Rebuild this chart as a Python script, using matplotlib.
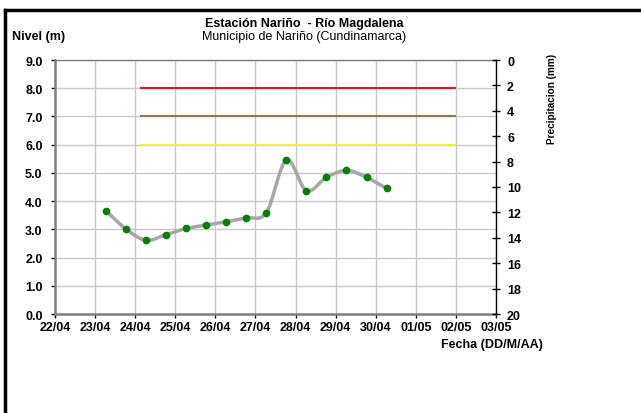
import matplotlib
matplotlib.use('Agg')
import matplotlib.pyplot as plt
import matplotlib.dates as mdates
from matplotlib.path import Path
from matplotlib.patches import PathPatch
from matplotlib.lines import Line2D
import numpy as np
import pandas as pd

plt.rcParams['font.family'] = ['Liberation Sans', 'DejaVu Sans']

# ---------------------------------------------------------------
# Datos (nivel cada 12 horas)
# ---------------------------------------------------------------
fechas = ['2011-04-23 06:30', '2011-04-23 18:30', '2011-04-24 06:30', '2011-04-24 18:30',
          '2011-04-25 06:30', '2011-04-25 18:30', '2011-04-26 06:30', '2011-04-26 18:30',
          '2011-04-27 06:30', '2011-04-27 18:30', '2011-04-28 06:30', '2011-04-28 18:30',
          '2011-04-29 06:30', '2011-04-29 18:30', '2011-04-30 06:30']
niveles = [3.66, 3.01, 2.61, 2.81, 3.03, 3.15, 3.27, 3.41, 3.59,
           5.46, 4.37, 4.84, 5.09, 4.84, 4.45]

# umbrales de alerta
umbral_niveles = [8.0, 7.0, 6.0]
umbral_colores = ['#E8141C', '#9C7250', '#F2F230']
umbral_inicio = '2011-04-24 03:00'
umbral_fin = '2011-05-02 00:00'

eje_x_inicio = '2011-04-22'
eje_x_fin = '2011-05-03'

x = mdates.date2num(pd.to_datetime(fechas))
y = np.array(niveles)


def curva_suave(xs, ys):
    # bezier tipo Catmull-Rom (como la linea suavizada de Excel)
    px = np.concatenate([[xs[0]], xs, [xs[-1]]])
    py = np.concatenate([[ys[0]], ys, [ys[-1]]])
    verts = [(xs[0], ys[0])]
    codes = [Path.MOVETO]
    for i in range(1, len(xs)):
        c1 = (px[i] + (px[i + 1] - px[i - 1]) / 6, py[i] + (py[i + 1] - py[i - 1]) / 6)
        c2 = (px[i + 1] - (px[i + 2] - px[i]) / 6, py[i + 1] - (py[i + 2] - py[i]) / 6)
        verts += [c1, c2, (px[i + 1], py[i + 1])]
        codes += [Path.CURVE4] * 3
    return Path(verts, codes)


fig = plt.figure(figsize=(6.41, 4.14), dpi=100)
ax = fig.add_axes([55 / 641, 1 - 315 / 414, 441 / 641, 254 / 414])

xmin = mdates.date2num(pd.Timestamp(eje_x_inicio))
xmax = mdates.date2num(pd.Timestamp(eje_x_fin))
ax.set_xlim(xmin, xmax)
ax.set_ylim(0, 9)

ax.xaxis.set_major_locator(mdates.DayLocator())
ax.xaxis.set_major_formatter(mdates.DateFormatter('%d/%m'))
ax.set_yticks(np.arange(0, 9.5, 1.0))
ax.yaxis.set_major_formatter(matplotlib.ticker.FormatStrFormatter('%.1f'))
ax.grid(True, color='#C8C8C8', lw=1.0)
ax.set_axisbelow(True)
for s in ['left', 'bottom', 'top']:
    ax.spines[s].set_color('#7F7F7F')
    ax.spines[s].set_linewidth(1.8)
ax.spines['top'].set_linewidth(1.0)
ax.spines['right'].set_visible(False)
ax.tick_params(labelsize=9, length=3, width=1, colors='black', pad=2)
ax.tick_params(axis='y', pad=6)
for lab in ax.get_xticklabels() + ax.get_yticklabels():
    lab.set_fontweight('bold')

# umbrales
u0 = mdates.date2num(pd.Timestamp(umbral_inicio))
u1 = mdates.date2num(pd.Timestamp(umbral_fin))
for nv, col in zip(umbral_niveles, umbral_colores):
    ax.plot([u0, u1], [nv, nv], color=col, lw=1.5, solid_capstyle='butt')

# nivel
ax.add_patch(PathPatch(curva_suave(x, y), fill=False, edgecolor='#A6A6A6', lw=2.5))
ax.plot(x, y, 'o', color='#008000', ms=4.5, mec='#008000')

# eje secundario de precipitacion
ax2 = ax.twinx()
ax2.set_ylim(20, 0)
ax2.set_yticks(np.arange(0, 21, 2))
ax2.spines['right'].set_color('black')
ax2.spines['right'].set_linewidth(1.0)
for s in ['left', 'bottom', 'top']:
    ax2.spines[s].set_visible(False)
ax2.tick_params(axis='y', labelsize=9, direction='inout', length=6, width=1, pad=5)
for lab in ax2.get_yticklabels():
    lab.set_fontweight('bold')

# textos
fig.text(304 / 641, 1 - 24 / 414, 'Estación Nariño  - Río Magdalena', ha='center', va='center',
         fontsize=9, fontweight='bold')
fig.text(304 / 641, 1 - 37 / 414, 'Municipio de Nariño (Cundinamarca)', ha='center', va='center',
         fontsize=9)
fig.text(12 / 641, 1 - 37 / 414, 'Nivel (m)', ha='left', va='center', fontsize=9, fontweight='bold')
fig.text(543 / 641, 1 - 345 / 414, 'Fecha (DD/M/AA)', ha='right', va='center', fontsize=9,
         fontweight='bold')
fig.text(552 / 641, 1 - 54 / 414, 'Precipitacion (mm)', ha='center', va='top', rotation=90,
         fontsize=7.2, fontweight='bold')

# marco del grafico (solo visible arriba e izquierda)
fig.add_artist(Line2D([5 / 641, 1], [1 - 10.5 / 414, 1 - 10.5 / 414], color='black', lw=2.5,
                      transform=fig.transFigure))
fig.add_artist(Line2D([5 / 641, 5 / 641], [0, 1 - 10.5 / 414], color='black', lw=2.5,
                      transform=fig.transFigure))

fig.savefig('out.png', dpi=100)
